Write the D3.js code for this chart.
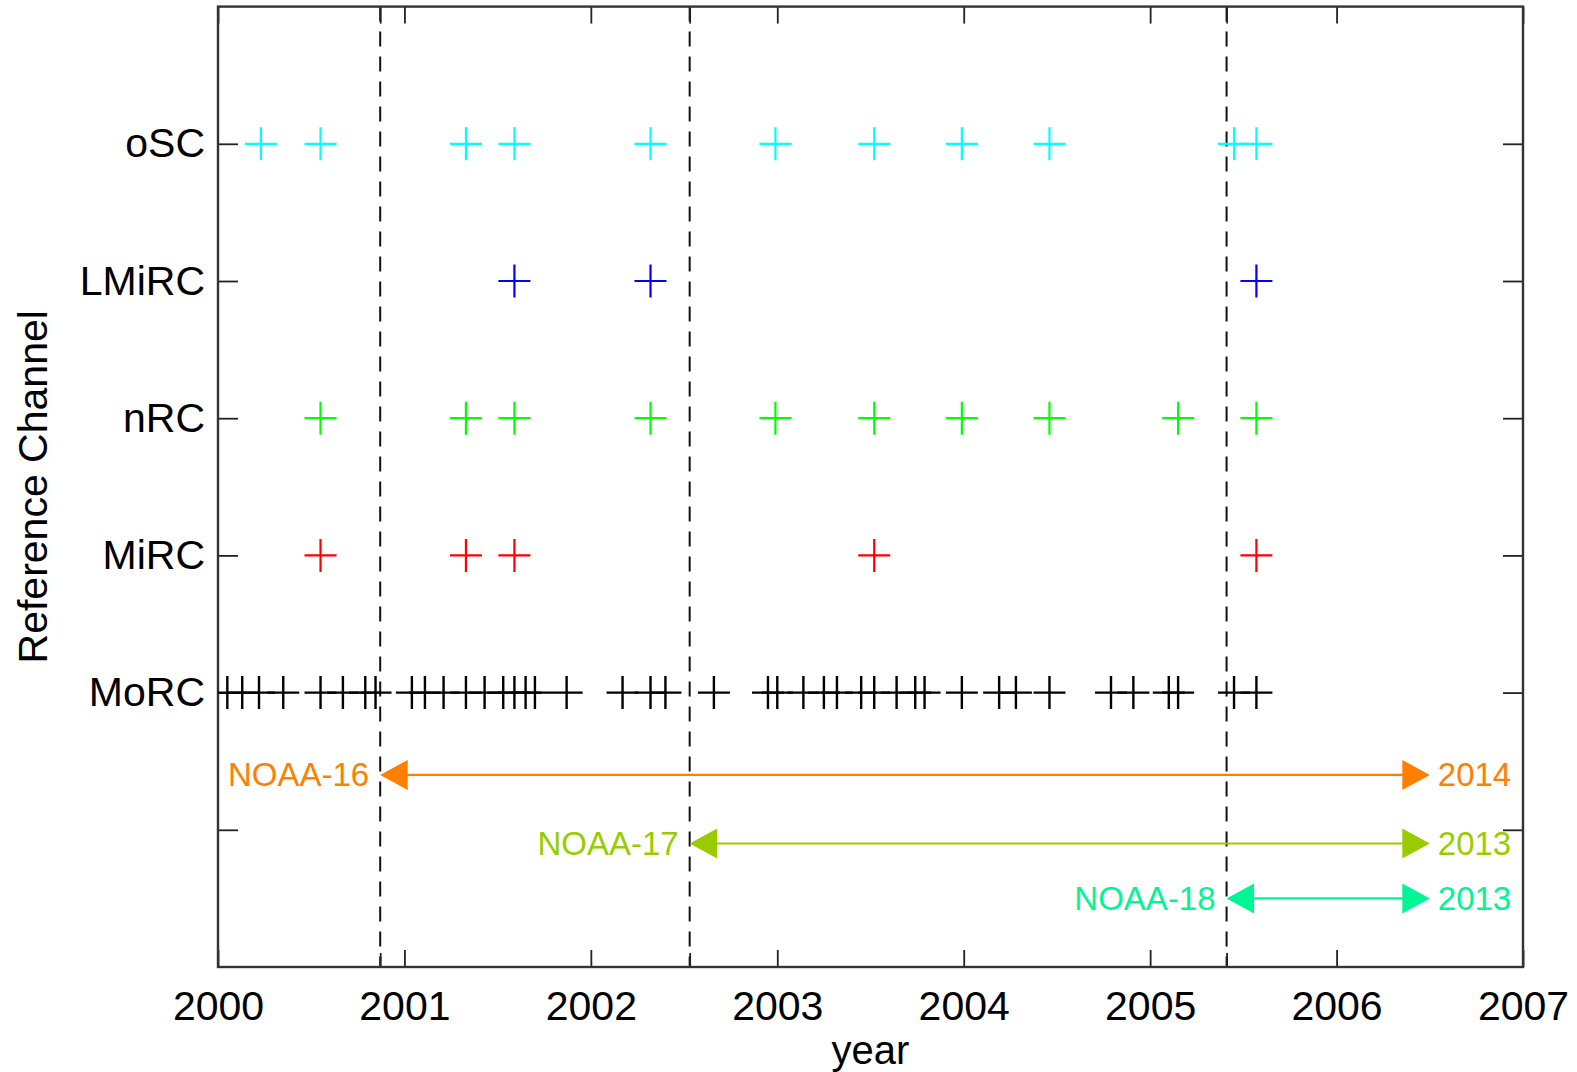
<!DOCTYPE html>
<html>
<head>
<meta charset="utf-8">
<script src="https://cdn.jsdelivr.net/npm/d3@7"></script>
<style>
  html, body { margin: 0; padding: 0; background: #fff; }
  svg { display: block; font-family: "Liberation Sans", Arial, sans-serif; }
</style>
</head>
<body>
<svg id="chart" width="1577" height="1072"></svg>
<script>
// Reference-channel events per year, one row per channel
const channelNames = ["MoRC", "MiRC", "nRC", "LMiRC", "oSC"];
const channelRows = [2, 3, 4, 5, 6];
const channelColors = ["#000000", "#ff0000", "#00ff00", "#0000ff", "#00ffff"];

const oSCYears = [2000.23, 2000.55, 2001.33, 2001.59, 2002.32, 2002.99, 2003.52, 2003.99, 2004.46, 2005.45, 2005.57];
const LMiRCYears = [2001.59, 2002.32, 2005.57];
const nRCYears = [2000.55, 2001.33, 2001.59, 2002.32, 2002.99, 2003.52, 2003.99, 2004.46, 2005.15, 2005.57];
const MiRCYears = [2000.55, 2001.33, 2001.59, 2003.52, 2005.57];
const MoRCYears = [2000.05, 2000.13, 2000.22, 2000.35, 2000.55, 2000.67, 2000.79, 2000.845,
  2001.04, 2001.11, 2001.21, 2001.33, 2001.43, 2001.53, 2001.59, 2001.65, 2001.70, 2001.87,
  2002.17, 2002.32, 2002.40, 2002.66, 2002.95, 2003.00, 2003.14, 2003.25, 2003.32, 2003.45,
  2003.52, 2003.64, 2003.74, 2003.79, 2003.99, 2004.19, 2004.28, 2004.46, 2004.79, 2004.91,
  2005.10, 2005.15, 2005.45, 2005.57];
const channelYears = [MoRCYears, MiRCYears, nRCYears, LMiRCYears, oSCYears];

// Satellite launch dates (dashed lines) and operating spans
const launchYears = [2000.87, 2002.53, 2005.41];
const satNames = ["NOAA-16", "NOAA-17", "NOAA-18"];
const satEndYear = [2006.5, 2006.5, 2006.5];
const satEndLabels = ["2014", "2013", "2013"];
const satRows = [1.4, 0.9, 0.5];
const satColors = ["#ff7f00", "#99cc00", "#00f595"];

// Axis ticks
const yearTicks = [2000, 2001, 2002, 2003, 2004, 2005, 2006, 2007];
const rowTicks = [1, 2, 3, 4, 5, 6];
const rowTickLabels = ["", "MoRC", "MiRC", "nRC", "LMiRC", "oSC"];

const svg = d3.select("#chart");
const plotLeft = 218, plotRight = 1523, plotTop = 6.6, plotBottom = 967;

const x = d3.scaleLinear().domain([2000, 2007]).range([plotLeft, plotRight]);
const y = d3.scaleLinear().domain([0, 7]).range([plotBottom, plotTop]);

const FONT = 41;

// clip for markers
svg.append("defs").append("clipPath").attr("id", "plotclip")
  .append("rect").attr("x", plotLeft).attr("y", plotTop)
  .attr("width", plotRight - plotLeft).attr("height", plotBottom - plotTop);

// dashed launch lines
svg.append("g").selectAll("line").data(launchYears).join("line")
  .attr("x1", d => x(d)).attr("x2", d => x(d))
  .attr("y1", plotTop).attr("y2", plotBottom)
  .attr("stroke", "#111").attr("stroke-width", 2)
  .attr("stroke-dasharray", "15,10");

// bottom axis
const bottomAxis = d3.axisBottom(x).tickValues(yearTicks).tickFormat(d3.format("d"))
  .tickSize(-17).tickPadding(24);
const gb = svg.append("g").attr("transform", `translate(0,${plotBottom})`).call(bottomAxis);
gb.select(".domain").remove();
gb.selectAll("line").attr("stroke", "#222").attr("stroke-width", 1.8);
gb.selectAll("text").attr("font-size", FONT).attr("fill", "#000");

const bottomMinor = d3.axisBottom(x).tickValues(launchYears).tickFormat("").tickSize(-14);
const gbm = svg.append("g").attr("transform", `translate(0,${plotBottom})`).call(bottomMinor);
gbm.select(".domain").remove();
gbm.selectAll("line").attr("stroke", "#222").attr("stroke-width", 1.8);

// top axis
const topAxis = d3.axisTop(x).tickValues(yearTicks.concat(launchYears)).tickFormat("").tickSize(-17);
const gt = svg.append("g").attr("transform", `translate(0,${plotTop})`).call(topAxis);
gt.select(".domain").remove();
gt.selectAll("line").attr("stroke", "#222").attr("stroke-width", 1.8);

// left axis
const leftAxis = d3.axisLeft(y).tickValues(rowTicks)
  .tickFormat((d, i) => rowTickLabels[i]).tickSize(-20).tickPadding(13);
const gl = svg.append("g").attr("transform", `translate(${plotLeft},0)`).call(leftAxis);
gl.select(".domain").remove();
gl.selectAll("line").attr("stroke", "#222").attr("stroke-width", 1.8);
gl.selectAll("text").attr("font-size", FONT).attr("fill", "#000");

// right axis
const rightAxis = d3.axisRight(y).tickValues(rowTicks).tickFormat("").tickSize(-20);
const gr = svg.append("g").attr("transform", `translate(${plotRight},0)`).call(rightAxis);
gr.select(".domain").remove();
gr.selectAll("line").attr("stroke", "#222").attr("stroke-width", 1.8);

// frame
svg.append("rect").attr("x", plotLeft).attr("y", plotTop)
  .attr("width", plotRight - plotLeft).attr("height", plotBottom - plotTop)
  .attr("fill", "none").attr("stroke", "#333").attr("stroke-width", 2.4);

// plus markers
const hw = 16, hh = 16.5;
const marks = svg.append("g").attr("clip-path", "url(#plotclip)");
channelYears.forEach((yrs, ci) => {
  const g = marks.append("g").attr("stroke", channelColors[ci])
    .attr("stroke-width", ci === 0 ? 2.4 : 2.2).attr("fill", "none");
  g.selectAll("path").data(yrs).join("path")
    .attr("d", d => {
      const cx = x(d), cy = y(channelRows[ci]);
      return `M${cx - hw},${cy}H${cx + hw}M${cx},${cy - hh}V${cy + hh}`;
    });
});

// satellite span arrows
const headLen = 27.5, headHalf = 15;
satNames.forEach((name, i) => {
  const x0 = x(launchYears[i]), x1 = x(satEndYear[i]), yy = y(satRows[i]);
  const col = satColors[i];
  const g = svg.append("g");
  g.append("line").attr("x1", x0 + headLen - 2).attr("x2", x1 - headLen + 2)
    .attr("y1", yy).attr("y2", yy).attr("stroke", col).attr("stroke-width", 2.2);
  g.append("path").attr("fill", col)
    .attr("d", `M${x0},${yy}L${x0 + headLen},${yy - headHalf}L${x0 + headLen},${yy + headHalf}Z`);
  g.append("path").attr("fill", col)
    .attr("d", `M${x1},${yy}L${x1 - headLen},${yy - headHalf}L${x1 - headLen},${yy + headHalf}Z`);
  g.append("text").attr("x", x0 - 11).attr("y", yy).attr("dy", "0.35em")
    .attr("text-anchor", "end").attr("font-size", 33).attr("fill", col).text(name);
  g.append("text").attr("x", x1 + 8).attr("y", yy).attr("dy", "0.35em")
    .attr("text-anchor", "start").attr("font-size", 33).attr("fill", col).text(satEndLabels[i]);
});

// axis titles
svg.append("text").attr("x", (plotLeft + plotRight) / 2).attr("y", 1064)
  .attr("text-anchor", "middle").attr("font-size", 40).attr("fill", "#000").text("year");
svg.append("text").attr("transform", `translate(47,${(plotTop + plotBottom) / 2}) rotate(-90)`)
  .attr("text-anchor", "middle").attr("font-size", FONT).attr("fill", "#000").text("Reference Channel");
</script>
</body>
</html>
